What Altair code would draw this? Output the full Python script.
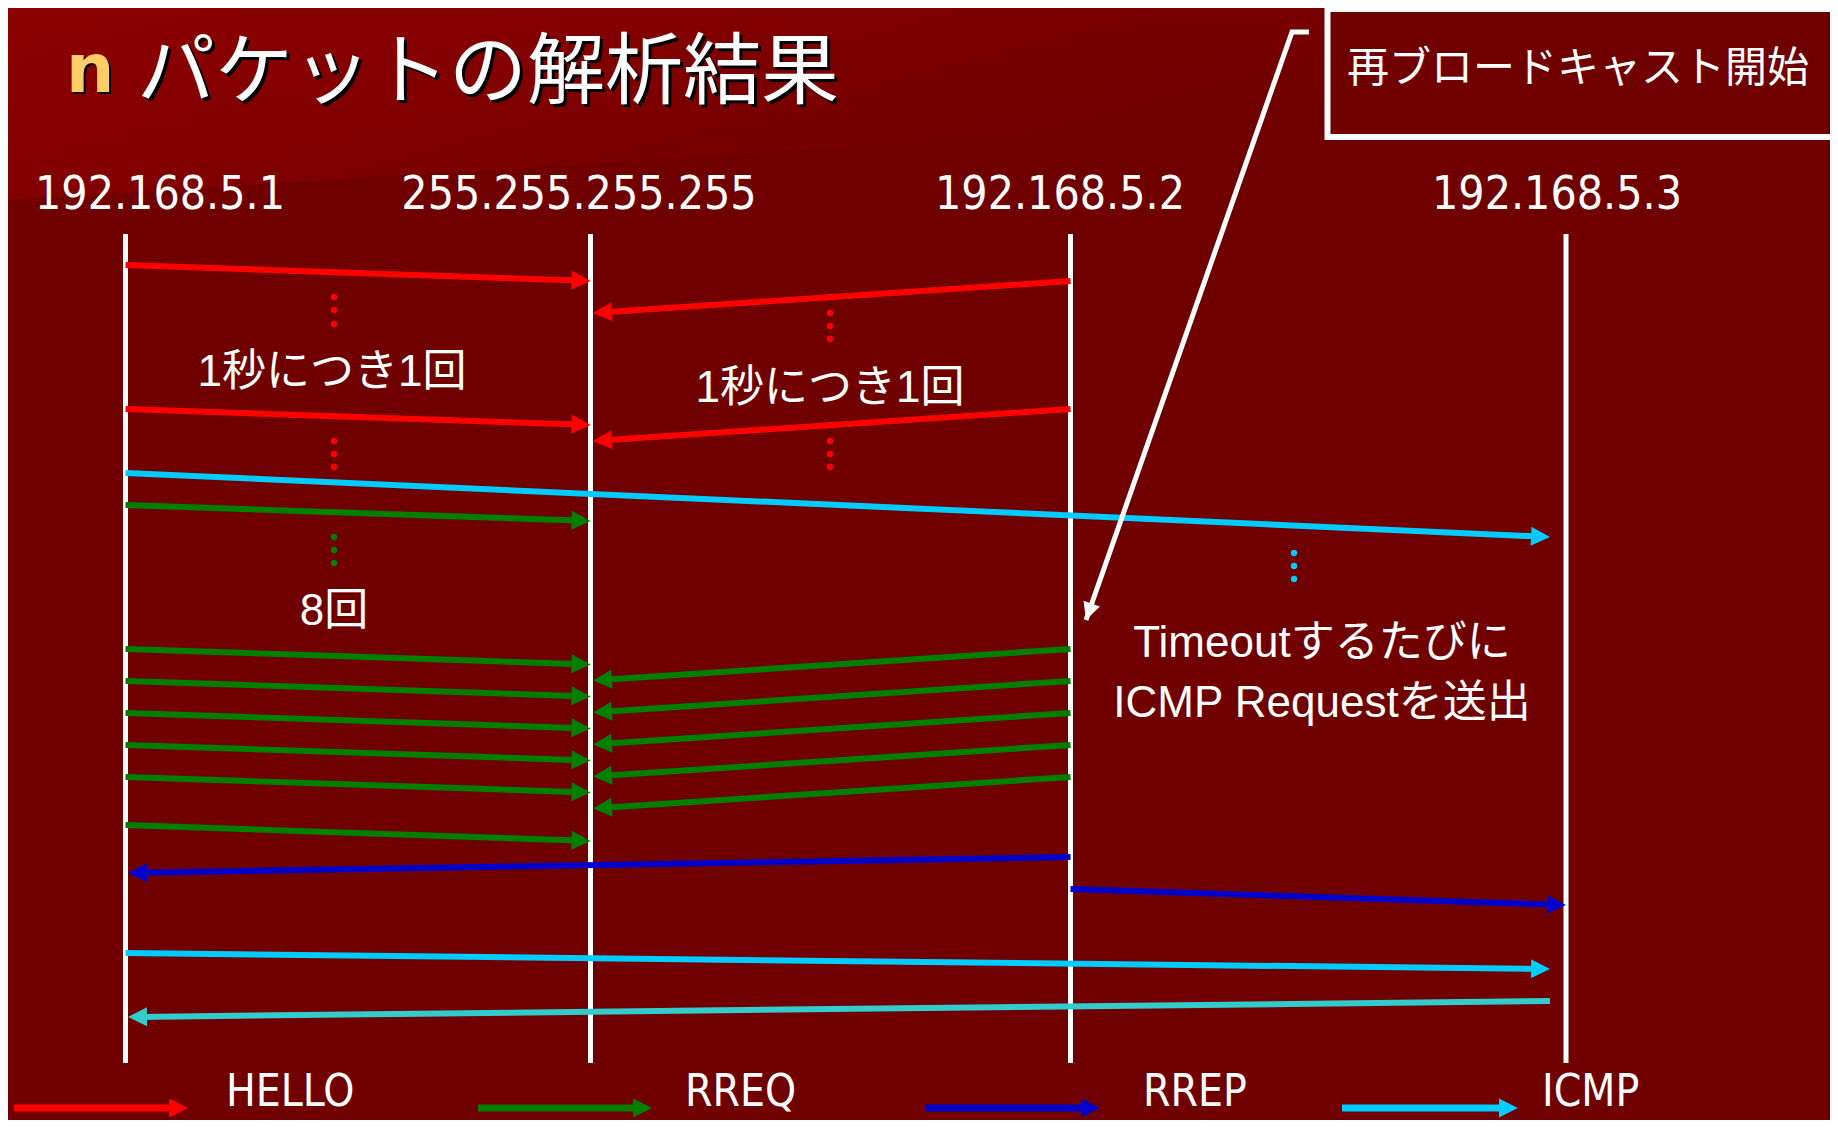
import math
import numpy as np
import pandas as pd
import altair as alt

# ---------------- data ----------------
nodes = ["192.168.5.1", "255.255.255.255", "192.168.5.2", "192.168.5.3"]
node_pos = [125.5, 590.5, 1070.5, 1566.0]
label_pos = [160, 579, 1060, 1557]
label_row = 195
lifeline_top = 234
lifeline_bottom = 1063

kinds = ["HELLO", "RREQ", "RREP", "ICMP", "ICMP-reply"]
kind_colors = ["#FF0000", "#008000", "#0000CC", "#00CCFF", "#33CCCC"]

msg_kind = ["HELLO", "HELLO", "HELLO", "HELLO", "ICMP", "RREQ",
            "RREQ", "RREQ", "RREQ", "RREQ", "RREQ", "RREQ",
            "RREQ", "RREQ", "RREQ", "RREQ", "RREQ",
            "RREP", "RREP", "ICMP", "ICMP-reply"]
msg_from = [0, 2, 0, 2, 0, 0,
            0, 0, 0, 0, 0, 0,
            2, 2, 2, 2, 2,
            2, 2, 0, 3]
msg_to = [1, 1, 1, 1, 3, 1,
          1, 1, 1, 1, 1, 1,
          1, 1, 1, 1, 1,
          0, 3, 3, 0]
msg_t_send = [265, 281, 409, 409, 473, 505,
              649, 681, 713, 745, 777, 825,
              649, 681, 713, 745, 777,
              857, 889, 953, 1001]
msg_t_recv = [281, 313, 425, 441, 537, 521,
              664.5, 696.5, 728.5, 760.5, 792.5, 841,
              680.5, 712.5, 744.5, 776.5, 808.5,
              873, 905, 969, 1017]

dot_kind = ["HELLO"] * 12 + ["RREQ"] * 3 + ["ICMP"] * 3
dot_x = [334] * 6 + [830] * 6 + [334] * 3 + [1294] * 3
dot_y = [297, 310, 324, 441, 454, 467,
         313, 326, 339, 441, 454, 467,
         537, 550, 563,
         553, 566, 579]

notes = ["1秒につき1回", "1秒につき1回", "8回", "Timeoutするたびに", "ICMP Requestを送出"]
note_x = [332, 830, 334, 1322, 1322]
note_y = [373, 389, 612, 644, 704]

box_text = ["再ブロードキャスト開始"]
box_text_x = [1578]
box_text_y = [69]
box_x = [1327.5, 1836]
box_y = [9, 137]
pointer_x = [1309, 1292, 1086]
pointer_y = [32, 32, 620]

legend_kinds = ["HELLO", "RREQ", "RREP", "ICMP"]
legend_start = [14, 478, 926, 1342]
legend_tip = [188, 652, 1100, 1518]
legend_text_x = [226, 685, 1143, 1542]
legend_row = 1108
legend_text_row = 1093

title_bullet = ["n"]
title_text = ["パケットの解析結果"]
title_bullet_x = [66]
title_text_x = [137]
bullet_row = 92
title_row = 98

band_x = [8, 1830]
band_bottom = [200, 86]

# ---------------- helpers ----------------
W, H = 1822, 1112
xs = alt.Scale(domain=[8, 8 + W], nice=False, zero=False)
ys = alt.Scale(domain=[8, 8 + H], nice=False, zero=False, reverse=True)
color_of = dict(zip(kinds, kind_colors))
HEAD = "M0,0L-2,-1L-2,1Z"
CJK = "'Noto Sans CJK JP'"
MIXED = "'Liberation Sans', 'Noto Sans CJK JP'"
NARROW = "'DejaVu Sans Condensed', 'Liberation Sans Narrow', 'Noto Sans', sans-serif"


def X(f):
    return alt.X(f"{f}:Q", scale=xs, axis=None)


def Y(f):
    return alt.Y(f"{f}:Q", scale=ys, axis=None)


def arrow_table(sx, sy, tx, ty, colors, back=11):
    df = pd.DataFrame({"sx": sx, "sy": sy, "tx": tx, "ty": ty, "color": colors})
    dx = df.tx - df.sx
    dy = df.ty - df.sy
    L = np.hypot(dx, dy)
    df["ex"] = df.tx - back * dx / L
    df["ey"] = df.ty - back * dy / L
    df["ang"] = np.degrees(np.arctan2(dy, dx)) % 360
    return df


# messages
sx, tx = [], []
for k, f, t in zip(msg_kind, msg_from, msg_to):
    start = node_pos[f]
    end = node_pos[t]
    if k.startswith("ICMP") and f == 3:
        start = node_pos[f] - 16
    if k.startswith("ICMP") and t == 3:
        end = node_pos[t] - 16
    elif end < start:
        end = end + 2.5
    sx.append(start)
    tx.append(end)
msgs = arrow_table(sx, msg_t_send, tx, msg_t_recv, [color_of[k] for k in msg_kind])

band = alt.Chart(pd.DataFrame({"x": band_x, "y": [8, 8], "y2": band_bottom})).mark_area(
    color=alt.Gradient(
        gradient="linear",
        stops=[alt.GradientStop(color="#8E0000", offset=0),
               alt.GradientStop(color="#7C0000", offset=0.5),
               alt.GradientStop(color="#700000", offset=0.8)],
        x1=0, x2=1, y1=0, y2=0.4),
).encode(x=X("x"), y=Y("y"), y2="y2")

lifelines = alt.Chart(pd.DataFrame({"x": node_pos, "y": [lifeline_top] * 4,
                                    "y2": [lifeline_bottom] * 4})).mark_rule(
    color="white", strokeWidth=5).encode(x=X("x"), y=Y("y"), y2="y2")

labels = alt.Chart(pd.DataFrame({"x": label_pos, "y": [label_row] * 4, "t": nodes})).mark_text(
    font=NARROW, fontSize=46, color="white", align="center", baseline="middle"
).encode(x=X("x"), y=Y("y"), text="t:N")

shafts = alt.Chart(msgs).mark_rule(strokeWidth=6).encode(
    x=X("sx"), y=Y("sy"), x2="ex", y2="ey", color=alt.Color("color:N", scale=None))
heads = alt.Chart(msgs).mark_point(shape=HEAD, filled=True, size=361, opacity=1, strokeWidth=0).encode(
    x=X("tx"), y=Y("ty"), angle=alt.Angle("ang:Q", scale=None),
    color=alt.Color("color:N", scale=None))

dots = alt.Chart(pd.DataFrame({"x": dot_x, "y": dot_y,
                               "color": [color_of[k] for k in dot_kind]})).mark_point(
    shape="circle", filled=True, size=40, opacity=1, strokeWidth=0).encode(
    x=X("x"), y=Y("y"), color=alt.Color("color:N", scale=None))

note_layer = alt.Chart(pd.DataFrame({"x": note_x, "y": note_y, "t": notes})).mark_text(
    font=MIXED, fontSize=44, color="white", align="center", baseline="middle"
).encode(x=X("x"), y=Y("y"), text="t:N")

box = alt.Chart(pd.DataFrame({"x": [box_x[0]], "x2": [box_x[1]], "y": [box_y[0]], "y2": [box_y[1]]})).mark_rect(
    fill="#700000", stroke="white", strokeWidth=6).encode(x=X("x"), x2="x2", y=Y("y"), y2="y2")
box_label = alt.Chart(pd.DataFrame({"x": box_text_x, "y": box_text_y, "t": box_text})).mark_text(
    font=CJK, fontSize=42, color="white", align="center", baseline="middle"
).encode(x=X("x"), y=Y("y"), text="t:N")

pointer = alt.Chart(pd.DataFrame({"x": pointer_x, "y": pointer_y, "i": [0, 1, 2]})).mark_line(
    color="white", strokeWidth=5, strokeJoin="miter").encode(
    x=X("x"), y=Y("y"), order="i:Q")
ptr = arrow_table([pointer_x[-2]], [pointer_y[-2]], [pointer_x[-1]], [pointer_y[-1]], ["white"])
pointer_head = alt.Chart(ptr).mark_point(shape=HEAD, filled=True, size=300, opacity=1, strokeWidth=0,
                                         color="white").encode(
    x=X("tx"), y=Y("ty"), angle=alt.Angle("ang:Q", scale=None))

leg = arrow_table(legend_start, [legend_row] * 4, legend_tip, [legend_row] * 4,
                  [color_of[k] for k in legend_kinds], back=10)
leg_shafts = alt.Chart(leg).mark_rule(strokeWidth=7).encode(
    x=X("sx"), y=Y("sy"), x2="ex", y2="ey", color=alt.Color("color:N", scale=None))
leg_heads = alt.Chart(leg).mark_point(shape=HEAD, filled=True, size=361, opacity=1, strokeWidth=0).encode(
    x=X("tx"), y=Y("ty"), angle=alt.Angle("ang:Q", scale=None),
    color=alt.Color("color:N", scale=None))
leg_text = alt.Chart(pd.DataFrame({"x": legend_text_x, "y": [legend_text_row] * 4,
                                   "t": legend_kinds})).mark_text(
    font=NARROW, fontSize=44, color="white", align="left", baseline="middle"
).encode(x=X("x"), y=Y("y"), text="t:N")

title_df = pd.DataFrame({"x": title_text_x, "y": [title_row], "t": title_text})
bullet_df = pd.DataFrame({"x": title_bullet_x, "y": [bullet_row], "t": title_bullet})
title_shadow = alt.Chart(title_df).mark_text(
    font=CJK, fontSize=78, color="black", align="left", baseline="alphabetic", dx=3, dy=3
).encode(x=X("x"), y=Y("y"), text="t:N")
title = alt.Chart(title_df).mark_text(
    font=CJK, fontSize=78, color="white", align="left", baseline="alphabetic"
).encode(x=X("x"), y=Y("y"), text="t:N")
bullet_shadow = alt.Chart(bullet_df).mark_text(
    font="'DejaVu Sans'", fontWeight="bold", fontSize=68, color="black", align="left",
    baseline="alphabetic", dx=2, dy=2
).encode(x=X("x"), y=Y("y"), text="t:N")
bullet = alt.Chart(bullet_df).mark_text(
    font="'DejaVu Sans'", fontWeight="bold", fontSize=68, color="#FFCC66", align="left",
    baseline="alphabetic"
).encode(x=X("x"), y=Y("y"), text="t:N")

chart = alt.layer(
    band, lifelines, labels, shafts, heads, dots, note_layer,
    box, box_label, pointer, pointer_head,
    leg_shafts, leg_heads, leg_text,
    title_shadow, title, bullet_shadow, bullet,
).properties(
    width=W, height=H, padding=0,
    autosize=alt.AutoSizeParams(type="none"),
    background="#700000",
).configure_view(stroke=None)

chart.save("out.html", embed_options={"renderer": "svg", "actions": False})
